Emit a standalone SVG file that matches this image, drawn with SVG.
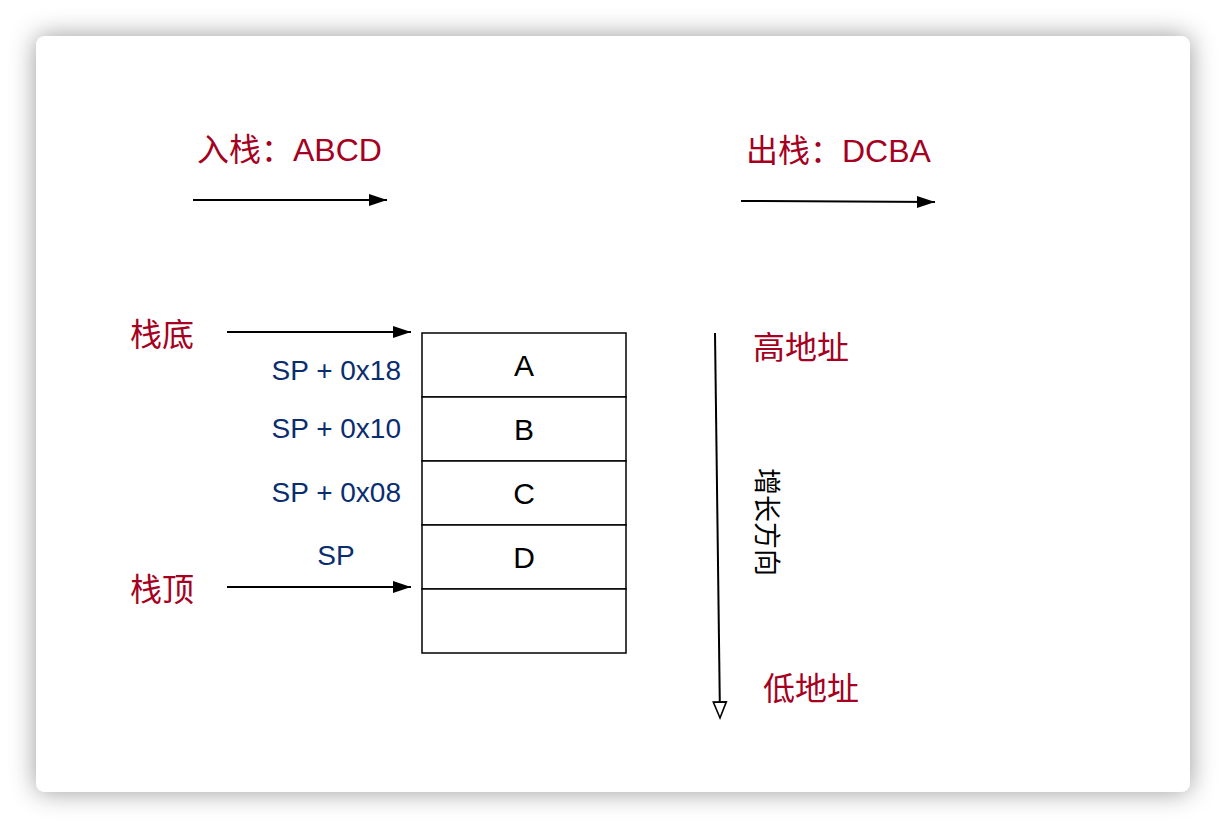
<svg xmlns="http://www.w3.org/2000/svg" width="1226" height="828" viewBox="0 0 1226 828">
<style>
.t{font-family:"Liberation Sans","Noto Sans CJK SC",sans-serif;}
.red{fill:#A50021;font-size:32px;}
.blue{fill:#0A2D6E;font-size:28px;}
.cell{fill:#000;font-size:30px;}
.ln{stroke:#000;stroke-width:2;fill:none;}
.box{fill:#fff;stroke:#000;stroke-width:1.5;}
</style>
<defs>
<filter id="sh" x="-10%" y="-10%" width="120%" height="120%">
<feDropShadow dx="0" dy="0" stdDeviation="13" flood-color="#000" flood-opacity="0.4"/>
</filter>
<marker id="ah" markerUnits="userSpaceOnUse" markerWidth="20" markerHeight="14" refX="19" refY="7" orient="auto">
<path d="M1,1 L19,7 L1,13 Z" fill="#000"/>
</marker>
<marker id="oh" markerUnits="userSpaceOnUse" markerWidth="20" markerHeight="18" refX="1" refY="8" orient="auto">
<path d="M1,1.5 L17,8 L1,14.5 Z" fill="#fff" stroke="#000" stroke-width="1.6"/>
</marker>
</defs>
<rect width="1226" height="828" fill="#fff"/>
<rect x="36" y="36" width="1154" height="756" rx="9" fill="#fff" filter="url(#sh)"/>
<g id="connectors">
<line class="ln" x1="193" y1="200" x2="387" y2="200" marker-end="url(#ah)"/>
<line class="ln" x1="741" y1="201" x2="935" y2="202" marker-end="url(#ah)"/>
<line class="ln" x1="227" y1="332" x2="411" y2="332" marker-end="url(#ah)"/>
<line class="ln" x1="227" y1="587" x2="411" y2="587" marker-end="url(#ah)"/>
<line class="ln" x1="715" y1="333" x2="719.8" y2="702" marker-end="url(#oh)"/>
</g>
<g id="push-label"><text class="t red" x="197" y="161">入栈：ABCD</text></g>
<g id="pop-label"><text class="t red" x="746" y="162">出栈：DCBA</text></g>
<g id="stack-bottom"><text class="t red" x="130" y="346">栈底</text></g>
<g id="stack-top"><text class="t red" x="130" y="601">栈顶</text></g>
<g id="high-addr"><text class="t red" x="753" y="359">高地址</text></g>
<g id="low-addr"><text class="t red" x="763" y="700">低地址</text></g>
<g id="growth"><text class="t" font-size="27" fill="#000" text-anchor="middle" transform="translate(757,522) rotate(90)">增长方向</text></g>
<g id="offsets">
<text class="t blue" x="401" y="380" text-anchor="end">SP + 0x18</text>
<text class="t blue" x="401" y="438" text-anchor="end">SP + 0x10</text>
<text class="t blue" x="401" y="502" text-anchor="end">SP + 0x08</text>
<text class="t blue" x="336" y="565" text-anchor="middle">SP</text>
</g>
<g id="cell-A"><rect class="box" x="422" y="333" width="204" height="64"/><text class="t cell" x="524" y="376" text-anchor="middle">A</text></g>
<g id="cell-B"><rect class="box" x="422" y="397" width="204" height="64"/><text class="t cell" x="524" y="440" text-anchor="middle">B</text></g>
<g id="cell-C"><rect class="box" x="422" y="461" width="204" height="64"/><text class="t cell" x="524" y="504" text-anchor="middle">C</text></g>
<g id="cell-D"><rect class="box" x="422" y="525" width="204" height="64"/><text class="t cell" x="524" y="568" text-anchor="middle">D</text></g>
<g id="cell-empty"><rect class="box" x="422" y="589" width="204" height="64"/></g>
</svg>
